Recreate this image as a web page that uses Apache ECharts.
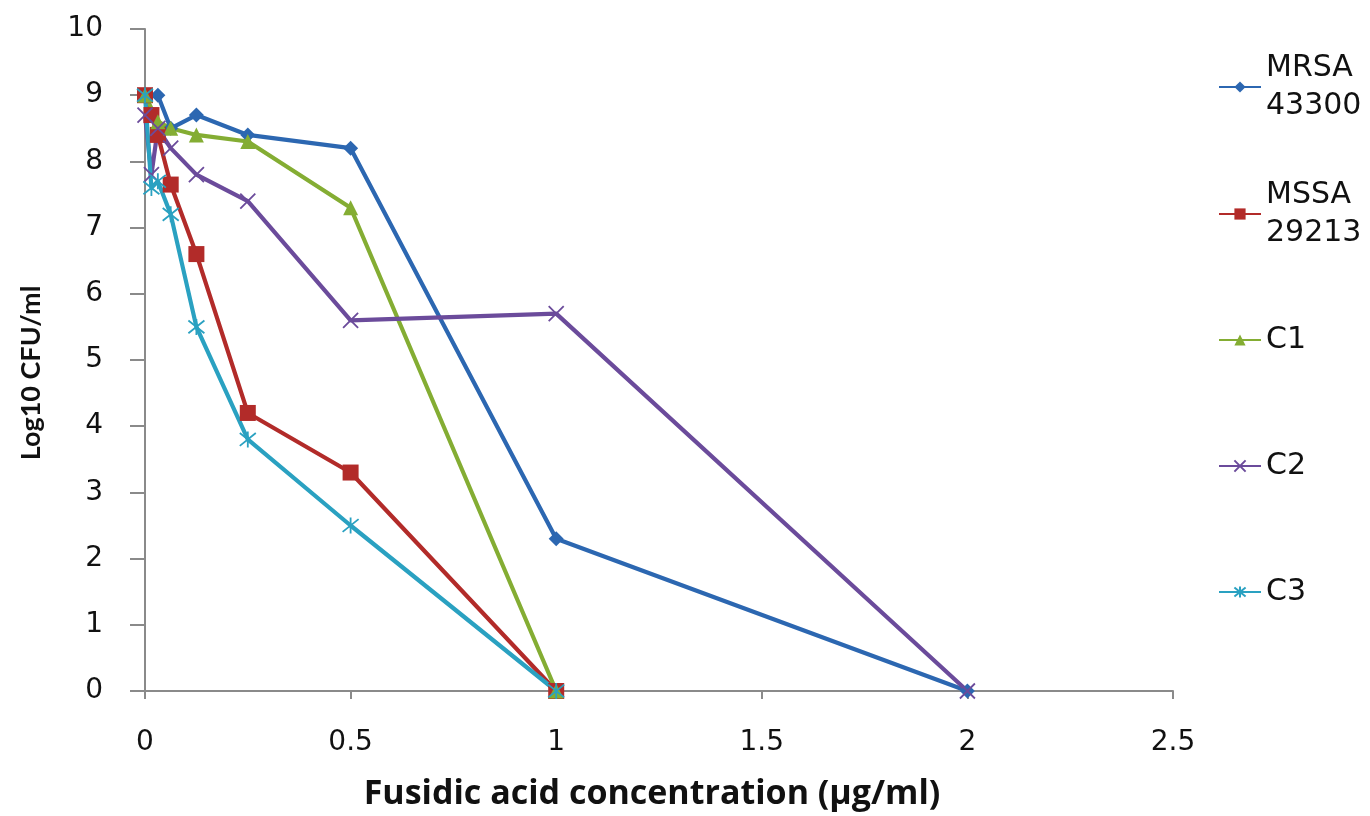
<!DOCTYPE html>
<html>
<head>
<meta charset="utf-8">
<script src="https://cdn.jsdelivr.net/npm/echarts@6/dist/echarts.min.js"></script>
<style>html,body{margin:0;padding:0;background:#fff}#c{width:1370px;height:816px}</style>
</head>
<body>
<div id="c"></div>
<script>
const seriesNames = ['MRSA 43300', 'MSSA 29213', 'C1', 'C2', 'C3'];
const mrsaX = [0, 0.03125, 0.0625, 0.125, 0.25, 0.5, 1, 2];
const mrsaY = [9, 9, 8.5, 8.7, 8.4, 8.2, 2.3, 0];
const mssaX = [0, 0.0156, 0.03125, 0.0625, 0.125, 0.25, 0.5, 1];
const mssaY = [9, 8.7, 8.4, 7.65, 6.6, 4.2, 3.3, 0];
const c1X = [0, 0.03125, 0.0625, 0.125, 0.25, 0.5, 1];
const c1Y = [9, 8.6, 8.5, 8.4, 8.3, 7.3, 0];
const c2X = [0, 0.0156, 0.03125, 0.0625, 0.125, 0.25, 0.5, 1, 2];
const c2Y = [8.7, 7.8, 8.5, 8.2, 7.8, 7.4, 5.6, 5.7, 0];
const c3X = [0, 0.0156, 0.03125, 0.0625, 0.125, 0.25, 0.5, 1];
const c3Y = [9, 7.6, 7.7, 7.2, 5.5, 3.8, 2.5, 0];
const xTicks = [0, 0.5, 1, 1.5, 2, 2.5];
const yTicks = [0, 1, 2, 3, 4, 5, 6, 7, 8, 9, 10];

const colors = ['#2c67b1', '#b22b29', '#84ad33', '#6b4b9b', '#2aa1c1'];
const symbols = ['diamond', 'rect', 'triangle',
  'path://M0,0L10,10M10,0L0,10',
  'path://M1,1L9,9M9,1L1,9M5,0L5,10'];
const sizes = [15, 16, 15, 15, 16];
const xs = [mrsaX, mssaX, c1X, c2X, c3X];
const ys = [mrsaY, mssaY, c1Y, c2Y, c3Y];
const legendFirstLineY = [87, 214, 340, 466, 592];
const L = 38;
const FONT = '"DejaVu Sans", Verdana, sans-serif';

const chart = echarts.init(document.getElementById('c'));
const series = seriesNames.map((n, i) => {
  const stroke = i >= 3;
  return {
    name: n, type: 'line',
    data: xs[i].map((x, k) => [x, ys[i][k]]),
    symbol: symbols[i], symbolSize: sizes[i], showSymbol: true,
    lineStyle: {color: colors[i], width: 4.2},
    itemStyle: stroke ? {color: 'rgba(0,0,0,0)', borderColor: colors[i], borderWidth: 1.8}
                      : {color: colors[i], borderWidth: 0},
    emphasis: {disabled: true},
    animation: false
  };
});
const legends = seriesNames.map((n, i) => {
  const two = n.indexOf(' ') > 0 && n.length > 4;
  const H = two ? 3 * L : L;
  return {
    data: [n], orient: 'vertical', left: 1218, top: legendFirstLineY[i] - H / 2,
    padding: 0, itemWidth: 42, itemHeight: 14, selectedMode: false,
    formatter: two ? (s) => s.replace(' ', '\n') : undefined,
    textStyle: {fontFamily: FONT, fontSize: 30, color: '#111', lineHeight: L,
      padding: two ? [L, 0, 0, 0] : 0}
  };
});
chart.setOption({
  animation: false,
  color: colors,
  grid: {left: 145, right: 197, top: 29, bottom: 120, containLabel: false},
  legend: legends,
  xAxis: {
    type: 'value', min: 0, max: xTicks[xTicks.length - 1], interval: 0.5,
    name: 'Fusidic acid concentration (µg/ml)', nameLocation: 'middle', nameGap: 86,
    nameTextStyle: {fontFamily: '"Open Sans"', fontWeight: 'bold', fontSize: 34, color: '#111',
      padding: [0, 14, 0, 0]},
    axisLine: {lineStyle: {color: '#8a8a8a', width: 2}},
    axisTick: {show: true, length: 8, lineStyle: {color: '#8a8a8a', width: 2}},
    axisLabel: {fontFamily: FONT, fontSize: 28, color: '#111', margin: 38},
    splitLine: {show: false}
  },
  yAxis: {
    type: 'value', min: 0, max: yTicks[yTicks.length - 1], interval: 1,
    name: 'Log10 CFU/ml', nameLocation: 'middle', nameGap: 100,
    nameTextStyle: {fontFamily: 'Lato', fontWeight: 'bold', fontSize: 27, color: '#111',
      padding: [0, 26, 0, 0]},
    axisLine: {show: true, lineStyle: {color: '#8a8a8a', width: 2}},
    axisTick: {show: true, length: 15, lineStyle: {color: '#8a8a8a', width: 2}},
    axisLabel: {fontFamily: FONT, fontSize: 28, color: '#111', margin: 42},
    splitLine: {show: false}
  },
  series: series
});
</script>
</body>
</html>
